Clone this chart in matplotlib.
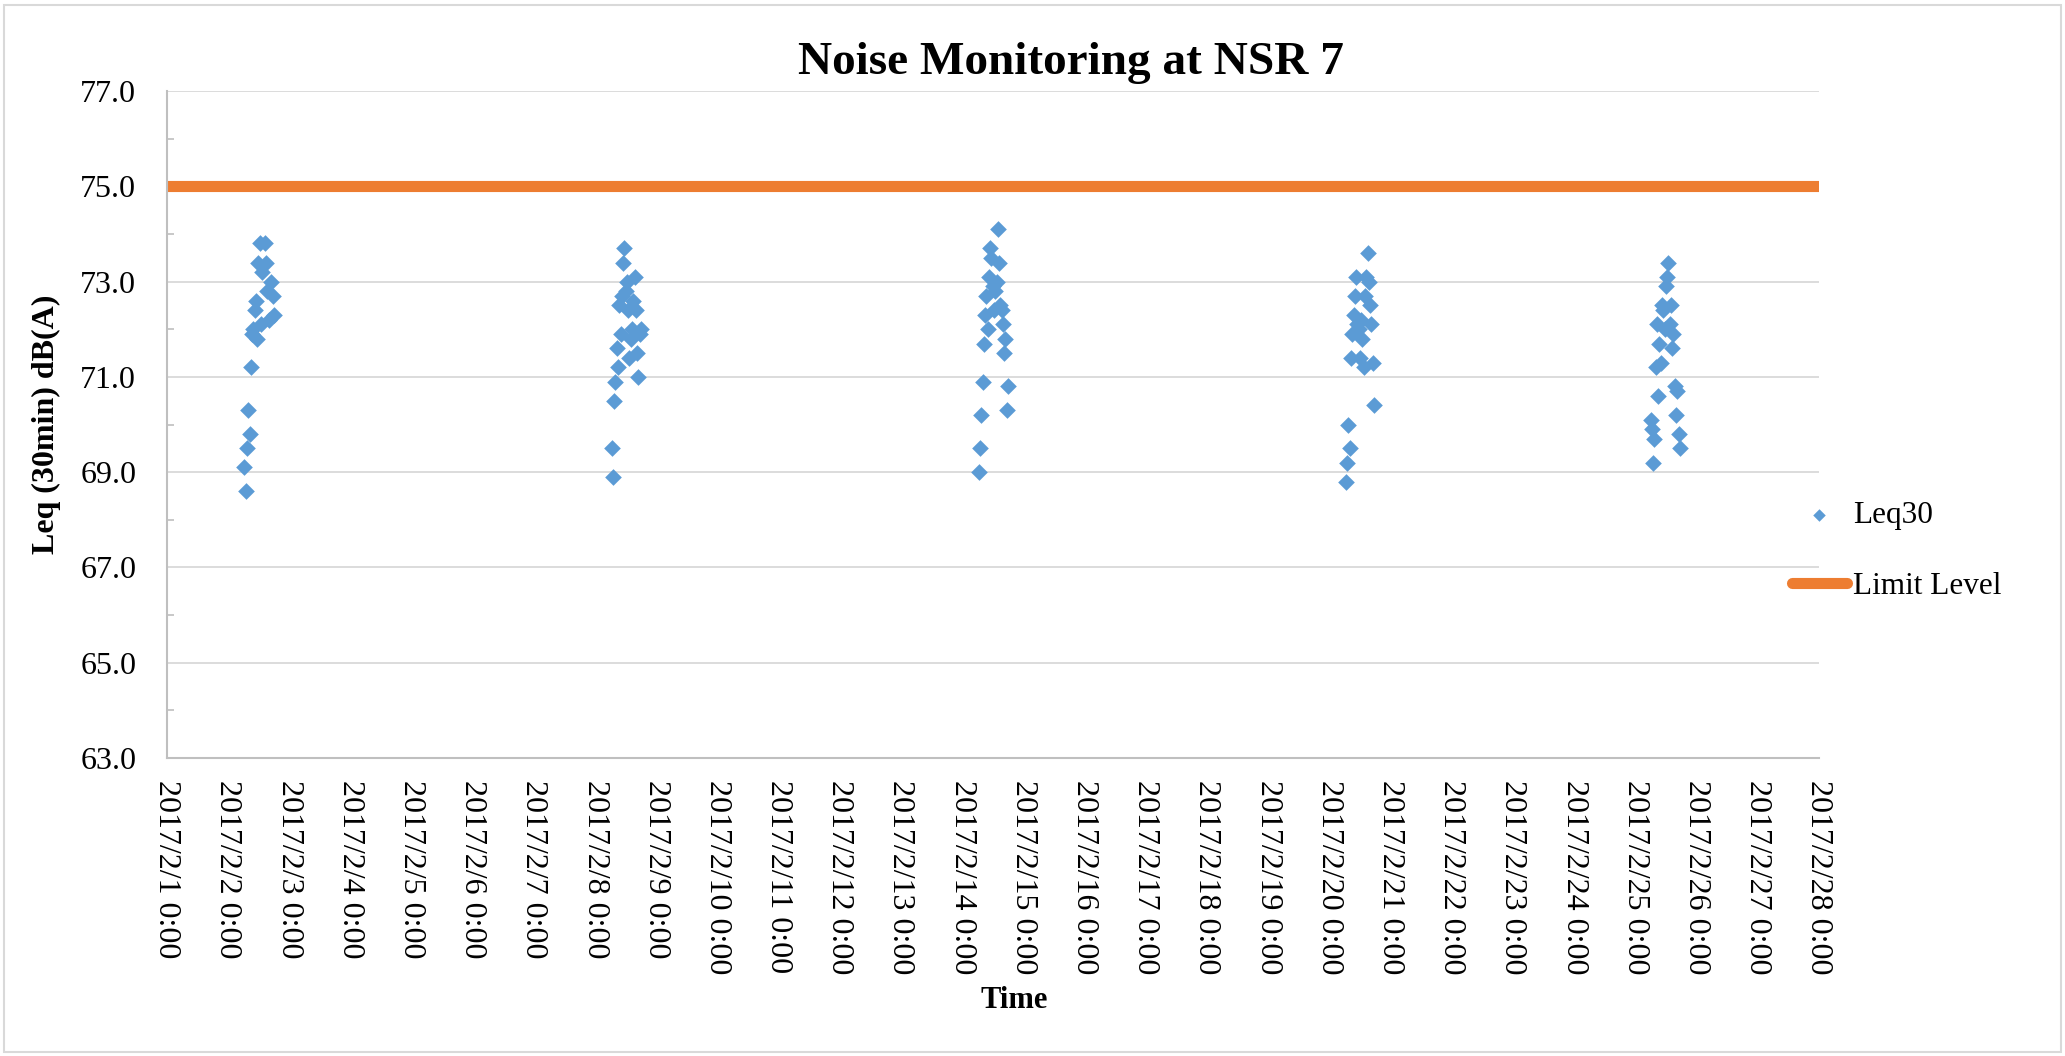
import numpy as np
import pandas as pd
import matplotlib
matplotlib.use("Agg")
import matplotlib.pyplot as plt
import matplotlib.dates as mdates
from matplotlib.patches import Rectangle

plt.rcParams['font.family'] = ['Liberation Serif', 'DejaVu Serif']

# ---------------------------------------------------------------
# Data: Leq(30min) readings, five monitoring days (hour of day, dB(A))
# ---------------------------------------------------------------
day1 = "2017-02-02"
hours1 = [6.5, 7.0, 7.5, 8.0, 8.5, 9.0, 9.5, 10.0, 10.5, 11.0, 11.5,
          12.0, 12.5, 13.0, 13.5, 14.5, 15.0, 15.5, 16.0, 17.0, 17.5, 18.0]
leq1 = [69.1, 68.6, 69.5, 70.3, 69.8, 71.2, 71.9, 72.0, 72.4, 72.6, 71.8,
        73.4, 73.8, 72.1, 73.2, 73.8, 73.4, 72.8, 72.2, 73.0, 72.7, 72.3]

day2 = "2017-02-08"
hours2 = [6.5, 7.0, 7.5, 8.0, 8.5, 9.0, 9.5, 10.0, 10.5, 11.0, 11.5, 12.0,
          12.5, 13.0, 13.5, 14.0, 14.5, 15.0, 15.5, 16.0, 16.5, 17.0, 17.5, 18.0]
leq2 = [69.5, 68.9, 70.5, 70.9, 71.6, 71.2, 72.5, 71.9, 72.7, 73.4, 73.7, 72.8,
        73.0, 72.4, 71.4, 71.8, 72.0, 72.6, 73.1, 72.4, 71.5, 71.0, 71.9, 72.0]

day3 = "2017-02-14"
hours3 = [6.5, 7.0, 7.5, 8.0, 8.5, 9.0, 9.5, 10.0, 10.5, 11.0, 11.5, 12.0,
          12.5, 13.0, 13.5, 14.0, 14.5, 15.0, 15.5, 16.0, 16.5, 17.0, 17.5, 18.0]
leq3 = [69.0, 69.5, 70.2, 70.9, 71.7, 72.3, 72.7, 72.0, 73.1, 73.7, 73.5, 72.9,
        72.4, 72.8, 73.0, 74.1, 73.4, 72.5, 72.4, 72.1, 71.5, 71.8, 70.3, 70.8]

day4 = "2017-02-20"
hours4 = [6.5, 7.0, 7.5, 8.0, 8.5, 9.0, 9.5, 10.0, 10.5, 11.0, 11.5, 12.0,
          12.5, 13.0, 13.5, 14.0, 14.5, 15.0, 15.5, 16.0, 16.5, 17.0, 17.5]
leq4 = [68.8, 69.2, 70.0, 69.5, 71.4, 71.9, 72.3, 72.7, 73.1, 72.1, 72.0, 71.4,
        72.2, 71.8, 71.2, 72.7, 73.1, 73.6, 73.0, 72.5, 72.1, 71.3, 70.4]

day5 = "2017-02-25"
hours5 = [6.0, 6.5, 7.0, 7.5, 8.0, 8.5, 9.0, 9.5, 10.0, 10.5, 11.0, 11.5,
          12.0, 12.5, 13.0, 13.5, 14.0, 14.5, 15.0, 15.5, 16.0, 16.5, 17.0, 17.5]
leq5 = [70.1, 69.9, 69.2, 69.7, 71.2, 72.1, 70.6, 71.7, 71.3, 72.5, 72.4, 72.0,
        72.9, 73.1, 73.4, 72.1, 72.5, 71.6, 71.9, 70.8, 70.2, 70.7, 69.8, 69.5]

limit_dates = ["2017-02-01", "2017-02-28"]
limit_level = [75.0, 75.0]

# build timestamps from day + hour lists
times = []
values = []
for d, hrs, v in [(day1, hours1, leq1), (day2, hours2, leq2), (day3, hours3, leq3),
                  (day4, hours4, leq4), (day5, hours5, leq5)]:
    times.extend(pd.Timestamp(d) + pd.to_timedelta(hrs, unit="h"))
    values.extend(v)
times = pd.to_datetime(times)

# ---------------------------------------------------------------
# Figure
# ---------------------------------------------------------------
W, H = 2065, 1056
fig = plt.figure(figsize=(W / 100, H / 100), dpi=100)
ax = fig.add_axes([166.7 / W, 1 - 758 / H, (1818.8 - 166.7) / W, (758 - 91) / H])

ax.scatter(times, values, marker="D", s=72, color="#5B9BD5", linewidths=0,
           label="Leq30", zorder=3)
ax.plot(pd.to_datetime(limit_dates), limit_level, color="#ED7D31", linewidth=8,
        solid_capstyle="butt", label="Limit Level", zorder=2)

ax.set_xlim(mdates.date2num(pd.Timestamp("2017-02-01")),
            mdates.date2num(pd.Timestamp("2017-02-28")))
ax.set_ylim(63, 77)
ax.set_yticks(np.arange(63, 77.1, 2))
ax.set_yticks(np.arange(64, 77, 2), minor=True)
ax.yaxis.set_major_formatter(plt.FuncFormatter(lambda v, p: f"{v:.1f}"))

ax.xaxis.set_major_locator(mdates.DayLocator())
def date_label(v, pos):
    d = mdates.num2date(v)
    return f"{d.year}/{d.month}/{d.day} {d.hour}:{d.minute:02d}"
ax.xaxis.set_major_formatter(plt.FuncFormatter(date_label))

ax.tick_params(axis="x", which="major", length=0, pad=16, labelsize=23,
               labelrotation=-90)
for lbl in ax.get_xticklabels():
    lbl.set_va("top")
    lbl.set_ha("center")
ax.tick_params(axis="y", which="major", length=0, pad=22, labelsize=23)
ax.tick_params(axis="y", which="minor", direction="in", length=5, width=1.2,
               color="#bfbfbf")

ax.grid(axis="y", which="major", color="#d9d9d9", linewidth=1.3)
ax.set_axisbelow(True)
for side in ["top", "right"]:
    ax.spines[side].set_visible(False)
for side in ["left", "bottom"]:
    ax.spines[side].set_color("#bfbfbf")
    ax.spines[side].set_linewidth(1.5)

# titles and axis labels
fig.text(1071 / W, 1 - 63 / H, "Noise Monitoring at NSR 7", ha="center", va="center",
         fontsize=34, fontweight="bold")
fig.text(46 / W, 1 - 424 / H, "Leq (30min) dB(A)", rotation=90, ha="center",
         va="center", fontsize=23, fontweight="bold")
fig.text(1014 / W, 1 - 1000 / H, "Time", ha="center", va="center",
         fontsize=22, fontweight="bold")

leg = ax.legend(loc="center left", bbox_to_anchor=(1792 / W, 1 - 551 / H),
                bbox_transform=fig.transFigure, frameon=False, fontsize=22.5,
                handlelength=1.75, handletextpad=0.2, labelspacing=1.35,
                borderpad=0, borderaxespad=0, markerscale=0.75)
leg.get_lines()[0].set_solid_capstyle("round")

# chart area border
fig.patches.append(Rectangle((4 / W, 4 / H), 1 - 8 / W, 1 - 9 / H, transform=fig.transFigure,
                             fill=False, edgecolor="#d9d9d9", linewidth=1.5))

fig.savefig("out.png", dpi=100)
